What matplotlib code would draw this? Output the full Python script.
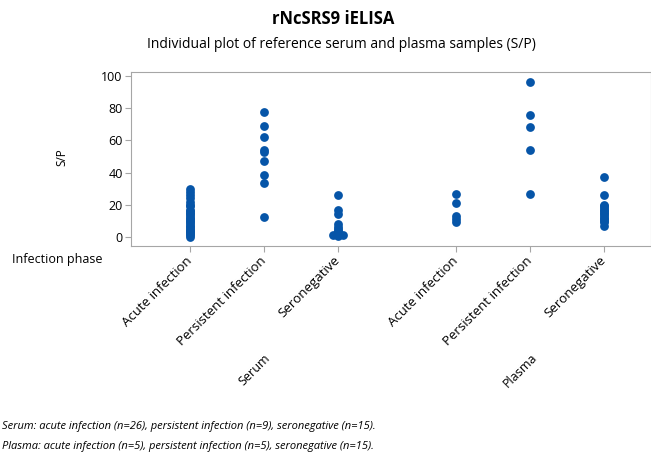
import numpy as np
import matplotlib.pyplot as plt
from matplotlib.transforms import blended_transform_factory

plt.rcParams['font.family'] = ['Open Sans', 'DejaVu Sans']

# S/P values
serum_acute = [30, 28, 26, 24, 22, 20, 19, 17, 16, 15, 14, 13, 12, 11, 10,
               9, 8, 7, 6, 5, 4, 3.5, 3, 2, 1, 0]
serum_persistent = [77.6, 69.1, 62.1, 54.2, 53.0, 47.0, 38.3, 33.7, 12.6]
serum_seronegative = [26, 17, 14, 8, 6, 5, 4, 3, 2.5, 2, 1.5, 1, 1, 1, 0.5]
plasma_acute = [27, 21, 13, 11, 9]
plasma_persistent = [96, 76, 68.3, 54, 27]
plasma_seronegative = [37, 26, 20, 19, 18, 17, 16, 15, 14, 13, 12, 11, 10, 9, 7]

phases = ["Acute infection", "Persistent infection", "Seronegative"]
sample_types = ["Serum", "Plasma"]
groups = [[serum_acute, serum_persistent, serum_seronegative],
          [plasma_acute, plasma_persistent, plasma_seronegative]]

footnotes = ["Serum: acute infection (n=26), persistent infection (n=9), seronegative (n=15).",
             "Plasma: acute infection (n=5), persistent infection (n=5), seronegative (n=15)."]

blue = '#0655a8'
grey = '#a6a6a6'
group_gap = 3.6

fig = plt.figure(figsize=(6.51, 4.57), dpi=100)
ax = fig.add_axes([131/651, 1 - 246/457, 1 - 131/651, (246 - 72)/457])

tick_pos = []
tick_lab = []
for g, (stype, cols) in enumerate(zip(sample_types, groups)):
    for i, (phase, vals) in enumerate(zip(phases, cols)):
        x0 = g * group_gap + i
        vals = np.asarray(vals, dtype=float)
        xs = np.full(len(vals), x0)
        # spread identical values side by side
        for v in np.unique(vals):
            idx = np.where(vals == v)[0]
            if len(idx) > 1:
                xs[idx] = x0 + (np.arange(len(idx)) - (len(idx) - 1) / 2) * 0.07
        ax.scatter(xs, vals, s=40, color=blue, linewidths=0, zorder=3)
        tick_pos.append(x0)
        tick_lab.append(phase)

ax.set_xlim(-0.8, 6.23)
ax.set_ylim(-5.6, 102.5)
ax.set_yticks([0, 20, 40, 60, 80, 100])
ax.set_xticks(tick_pos)
ax.set_xticklabels(tick_lab, rotation=45, ha='right', va='center',
                   rotation_mode='anchor', fontsize=9.5)
ax.tick_params(axis='y', labelsize=9, color=grey, length=4, pad=2)
ax.tick_params(axis='x', color=grey, length=4, pad=5)
for sp in ax.spines.values():
    sp.set_color(grey)

fig.text(62/651, 1 - 157/457, "S/P", fontsize=8.5, rotation=90,
         ha='center', va='center')
fig.text(12/651, 1 - 259/457, "Infection phase", fontsize=9, va='center')

trans = blended_transform_factory(ax.transData, fig.transFigure)
for g, stype in enumerate(sample_types):
    ax.text(g * group_gap + 1 + 0.06, 1 - 356/457, stype, transform=trans,
            rotation=45, ha='right', va='center', rotation_mode='anchor',
            fontsize=9)

fig.text(333/651, 1 - 19/457, "rNcSRS9 iELISA", fontsize=12, fontweight='bold',
         ha='center', va='center')
fig.text(341/651, 1 - 45/457,
         "Individual plot of reference serum and plasma samples (S/P)",
         fontsize=10, ha='center', va='center')

for k, line in enumerate(footnotes):
    fig.text(2/651, 1 - (426 + 20 * k)/457, line, fontsize=8, style='italic',
             va='center', ha='left')

fig.savefig('out.png', dpi=100)
